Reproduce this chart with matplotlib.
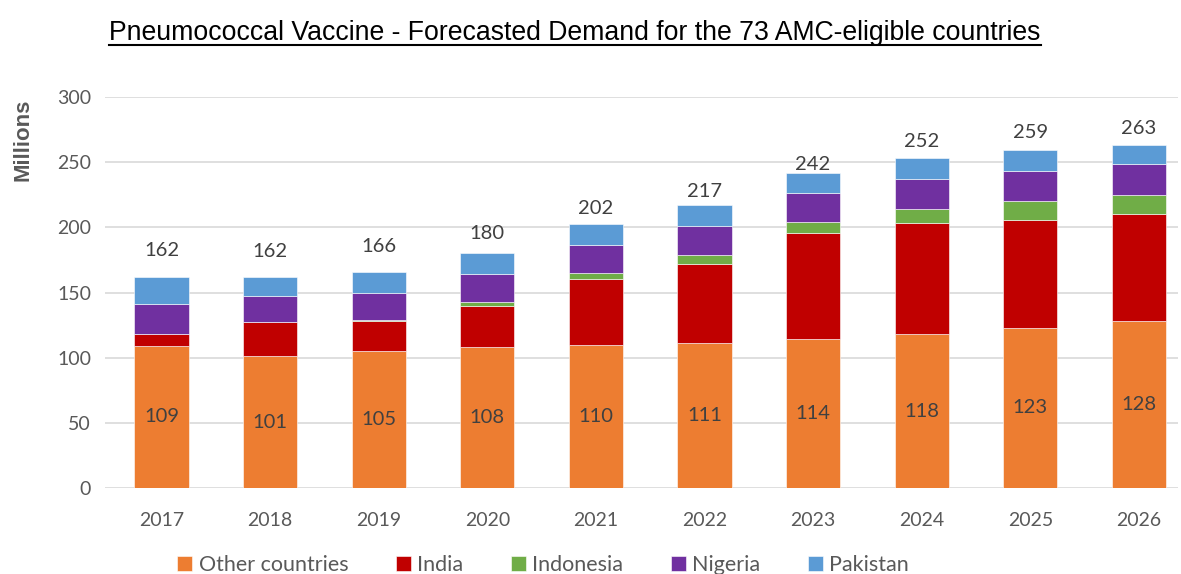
import numpy as np
import matplotlib.pyplot as plt
from matplotlib.lines import Line2D

years = ["2017", "2018", "2019", "2020", "2021", "2022", "2023", "2024", "2025", "2026"]
other = [109, 101, 105, 108, 110, 111, 114, 118, 123, 128]
india = [9, 26, 23, 32, 50, 61, 82, 85, 83, 82.5]
indonesia = [0, 0, 1, 2.5, 4.6, 7, 8, 11, 14, 14]
nigeria = [23, 20, 21, 22, 22, 22, 22.5, 23, 23, 24]
pakistan = [21, 15, 16, 16, 16, 16, 15, 16, 16, 15]
totals = [162, 162, 166, 180, 202, 217, 242, 252, 259, 263]

# how far above the bar each total label sits (points)
label_gap = [19, 18, 18, 14, 11, 10, 6.5, 12, 13, 11.5]

series = [
    ("Other countries", other, "#ED7D31"),
    ("India", india, "#C00000"),
    ("Indonesia", indonesia, "#70AD47"),
    ("Nigeria", nigeria, "#7030A0"),
    ("Pakistan", pakistan, "#5B9BD5"),
]

plt.rcParams["font.family"] = ["Lato", "DejaVu Sans"]

fig = plt.figure(figsize=(11.81, 5.74), dpi=100)
ax = fig.add_axes([105 / 1181, 86 / 574, (1178 - 105) / 1181, (488 - 97) / 574])

x = np.arange(len(years))
bottom = np.zeros(len(years))
for name, vals, color in series:
    vals = np.array(vals, dtype=float)
    ax.bar(x, vals, 0.5, bottom=bottom, color=color, label=name,
           edgecolor="white", linewidth=0.4, zorder=3)
    bottom += vals

# value labels
for i in range(len(years)):
    ax.text(x[i], other[i] / 2, str(other[i]), ha="center", va="center",
            fontsize=14.5, color="#404040", zorder=4)
    ax.annotate(str(totals[i]), (x[i], bottom[i]), xytext=(0, label_gap[i]),
                textcoords="offset points", ha="center", va="center",
                fontsize=14.5, color="#404040", zorder=4)

ax.set_xlim(-0.52, 9.36)
ax.set_ylim(0, 300)
ax.set_yticks(np.arange(0, 301, 50))
ax.set_xticks(x)
ax.set_xticklabels(years)
ax.yaxis.grid(True, color="#D9D9D9", linewidth=1.2, zorder=0)
for s in ax.spines.values():
    s.set_visible(False)
ax.tick_params(axis="both", length=0, labelsize=14, labelcolor="#595959")
ax.tick_params(axis="x", pad=17)
ax.tick_params(axis="y", pad=10)
ax.set_ylabel("Millions", fontsize=16, fontweight="bold", color="#595959",
              family=["Liberation Sans", "DejaVu Sans"])
ax.yaxis.set_label_coords(-71 / 1073, (488 - 140) / 391)

# title with underline
title = fig.text(575 / 1181, 1 - 32.5 / 574, "Pneumococcal Vaccine - Forecasted Demand for the 73 AMC-eligible countries",
                 ha="center", va="center", fontsize=19.2,
                 family=["Liberation Sans", "DejaVu Sans"], color="black")
fig.canvas.draw()
bb = title.get_window_extent().transformed(fig.transFigure.inverted())
fig.add_artist(Line2D([bb.x0, bb.x1], [bb.y0 + 0.001, bb.y0 + 0.001],
                      transform=fig.transFigure, color="black", linewidth=1.5))

fig.legend(loc="center", bbox_to_anchor=(0.46, 1 - 565 / 574), ncol=5, frameon=False,
           fontsize=15.5, handlelength=0.7, handleheight=0.7, handletextpad=0.3,
           columnspacing=2.2, labelcolor="#595959")

fig.savefig("out.png", dpi=100)
